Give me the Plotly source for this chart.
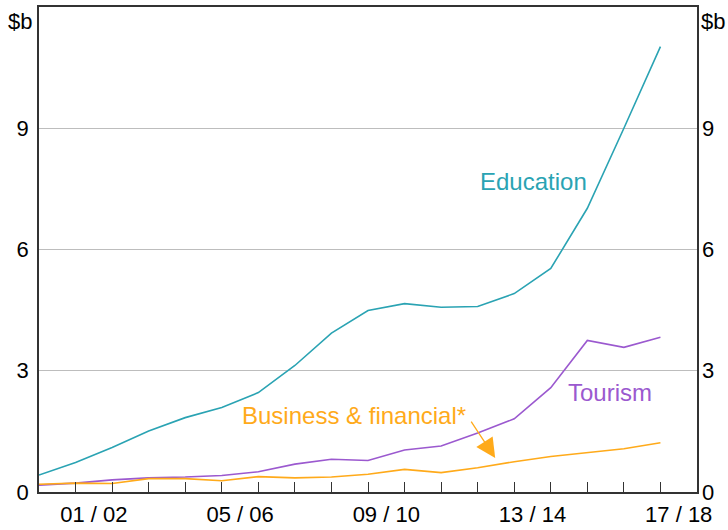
import plotly.graph_objects as go

# Data (A$ billion), fiscal years 2000/01 .. 2017/18
years = ["00/01", "01/02", "02/03", "03/04", "04/05", "05/06", "06/07", "07/08", "08/09",
         "09/10", "10/11", "11/12", "12/13", "13/14", "14/15", "15/16", "16/17", "17/18"]
education = [0.42, 0.73, 1.10, 1.51, 1.84, 2.09, 2.46, 3.13, 3.93, 4.49, 4.66, 4.57,
             4.59, 4.91, 5.53, 7.02, 9.00, 11.02]
tourism = [0.17, 0.22, 0.30, 0.35, 0.37, 0.41, 0.50, 0.69, 0.81, 0.78, 1.04, 1.14,
           1.46, 1.81, 2.58, 3.75, 3.58, 3.83]
business = [0.19, 0.22, 0.21, 0.33, 0.33, 0.28, 0.38, 0.35, 0.37, 0.44, 0.56, 0.48,
            0.60, 0.75, 0.88, 0.98, 1.07, 1.22]
tick_labels = ["01 / 02", "05 / 06", "09 / 10", "13 / 14", "17 / 18"]
tick_label_pos = [1.5, 5.5, 9.5, 13.5, 17.5]
y_ticks = [0, 3, 6, 9]

TEAL = "#2AA3B3"
PURPLE = "#9B59CF"
ORANGE = "#FFAA1A"
FONT = "Liberation Sans, Arial, sans-serif"

xpos = list(range(len(years)))

fig = go.Figure()
fig.add_trace(go.Scatter(x=xpos, y=education, mode="lines", line=dict(color=TEAL, width=1.6),
                         name="Education", hoverinfo="skip"))
fig.add_trace(go.Scatter(x=xpos, y=tourism, mode="lines", line=dict(color=PURPLE, width=1.6),
                         name="Tourism", hoverinfo="skip"))
fig.add_trace(go.Scatter(x=xpos, y=business, mode="lines", line=dict(color=ORANGE, width=1.6),
                         name="Business & financial*", hoverinfo="skip"))
# invisible trace to activate right axis
fig.add_trace(go.Scatter(x=[0], y=[0], yaxis="y2", mode="markers", marker=dict(opacity=0),
                         showlegend=False, hoverinfo="skip"))

axis_col = "#333333"
fig.update_layout(
    width=728, height=530,
    margin=dict(l=39, r=31, t=7, b=38),
    plot_bgcolor="white", paper_bgcolor="white",
    showlegend=False,
    font=dict(family=FONT, size=22, color="black"),
    xaxis=dict(range=[0, 18], tickvals=tick_label_pos, ticktext=tick_labels, ticks="",
               automargin=False,
               showgrid=False, zeroline=False, showline=True, linecolor=axis_col, linewidth=1.5,
               mirror=True, tickfont=dict(size=22), ticklabelstandoff=2,
               minor=dict(tickvals=list(range(1, 18)), ticks="inside", ticklen=10,
                          tickcolor=axis_col, tickwidth=1.3, showgrid=False)),
    yaxis=dict(range=[0, 12], tickvals=y_ticks, ticks="", showgrid=True, gridcolor="#BDBDBD",
               automargin=False,
               gridwidth=1, zeroline=False, showline=True, linecolor=axis_col, linewidth=1.5,
               mirror=True, tickfont=dict(size=22), ticklabelstandoff=4),
    yaxis2=dict(range=[0, 12], tickvals=y_ticks, ticks="", overlaying="y", side="right",
                automargin=False,
                showgrid=False, zeroline=False, showline=False, tickfont=dict(size=22),
                ticklabelstandoff=4),
)

ann_font = dict(family=FONT, size=24)
fig.add_annotation(x=13.52, y=7.68, text="Education", showarrow=False,
                   font=dict(ann_font, color=TEAL))
fig.add_annotation(x=15.62, y=2.45, text="Tourism", showarrow=False,
                   font=dict(ann_font, color=PURPLE))
fig.add_annotation(x=8.61, y=1.90, text="Business & financial*", showarrow=False,
                   font=dict(ann_font, color=ORANGE))
fig.add_annotation(x=12.48, y=0.84, text="", showarrow=True, ax=-25, ay=-38,
                   arrowcolor=ORANGE, arrowhead=2, arrowsize=3.0, arrowwidth=1.3)
fig.add_annotation(xref="paper", yref="paper", x=0, y=1, xanchor="right", yanchor="top",
                   xshift=-5, yshift=0, text="$b", showarrow=False, font=dict(size=22))
fig.add_annotation(xref="paper", yref="paper", x=1, y=1, xanchor="left", yanchor="top",
                   xshift=2, yshift=0, text="$b", showarrow=False, font=dict(size=22))

fig.write_html("out.html", config={"displayModeBar": False},
               post_script="document.body.style.margin='0px';")
